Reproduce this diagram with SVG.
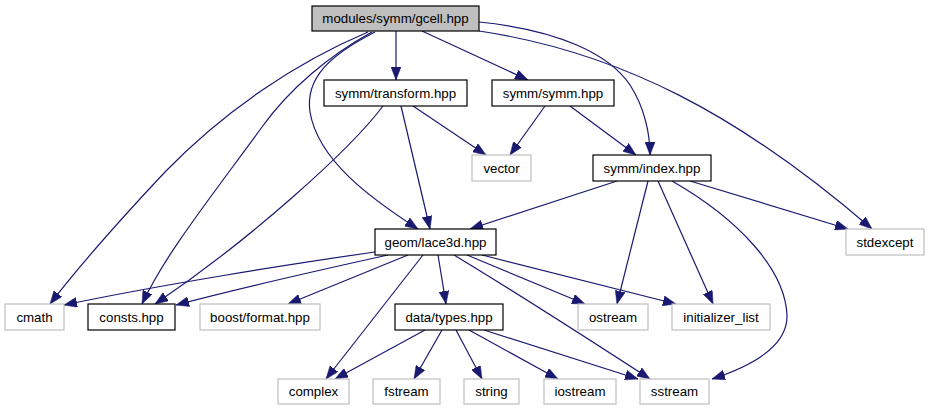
<svg xmlns="http://www.w3.org/2000/svg" width="930" height="411" viewBox="0 0 930 411">
<defs>
<marker id="arr" viewBox="0 0 13 10" refX="13" refY="5" markerWidth="13" markerHeight="10" markerUnits="userSpaceOnUse" orient="auto">
<path d="M0,0 L13,5 L0,10 Z" fill="#191970" stroke="#191970" stroke-width="0.5"/>
</marker>
</defs>
<style>
.e{fill:none;stroke:#191970;stroke-width:1.2;marker-end:url(#arr)}
.n rect{fill:#ffffff;stroke:#000000;stroke-width:1.2}
.s rect{fill:#ffffff;stroke:#bfbfbf;stroke-width:1.2}
.r rect{fill:#bfbfbf;stroke:#000000;stroke-width:1.2}
text{font-family:"Liberation Sans",Arial,Helvetica,sans-serif;font-size:13.3px;fill:#000000;text-anchor:middle}
</style>
<rect width="930" height="411" fill="#ffffff"/>
<g id="edges">
<path class="e" d="M368,32 C297,62 225,110 165,172 C118,222 80,265 50,304"/>
<path class="e" d="M372,32 C330,55 290,88 262,127 C205,205 165,255 142,304"/>
<path class="e" d="M375,32 C330,55 305,78 310,112 C318,160 370,198 418,229"/>
<path class="e" d="M396,31 L396,80"/>
<path class="e" d="M422,31 L528,80"/>
<path class="e" d="M479,22 C560,30 610,55 630,85 C645,108 650,135 650,155"/>
<path class="e" d="M479,31 C620,52 740,115 872,229"/>
<path class="e" d="M383,106 C350,150 250,240 155,304"/>
<path class="e" d="M401,106 L430,229"/>
<path class="e" d="M413,106 L486,155"/>
<path class="e" d="M545,106 L510,155"/>
<path class="e" d="M570,106 L636,155"/>
<path class="e" d="M617,181 L470,229"/>
<path class="e" d="M690,181 L848,229"/>
<path class="e" d="M648,181 L617,304"/>
<path class="e" d="M658,181 L713,304"/>
<path class="e" d="M672,181 C740,220 785,270 787,315 C788,345 755,365 712,379"/>
<path class="e" d="M375,252 C290,264 160,285 64,305"/>
<path class="e" d="M388,255 C320,270 240,288 176,305"/>
<path class="e" d="M408,255 L288,304"/>
<path class="e" d="M423,255 L326,379"/>
<path class="e" d="M438,255 L446,304"/>
<path class="e" d="M467,255 L585,304"/>
<path class="e" d="M482,255 L676,304"/>
<path class="e" d="M454,255 C520,295 590,340 650,379"/>
<path class="e" d="M425,330 L335,379"/>
<path class="e" d="M442,330 L414,379"/>
<path class="e" d="M456,330 L482,379"/>
<path class="e" d="M469,330 L558,379"/>
<path class="e" d="M484,330 L638,379"/>
</g>
<g id="gcell" class="r"><rect x="312" y="6" width="167" height="25"/><text x="395.5" y="23">modules/symm/gcell.hpp</text></g>
<g id="transform" class="n"><rect x="324" y="80" width="143" height="26"/><text x="395.5" y="97.5">symm/transform.hpp</text></g>
<g id="symm" class="n"><rect x="492" y="80" width="122" height="26"/><text x="553" y="97.5">symm/symm.hpp</text></g>
<g id="vector" class="s"><rect x="472" y="155" width="59" height="26"/><text x="501.5" y="172.5">vector</text></g>
<g id="index" class="n"><rect x="593" y="155" width="118" height="26"/><text x="652" y="172.5">symm/index.hpp</text></g>
<g id="stdexcept" class="s"><rect x="846" y="229" width="78" height="26"/><text x="885" y="246.5">stdexcept</text></g>
<g id="lace3d" class="n"><rect x="375" y="229" width="121" height="26"/><text x="435.5" y="246.5">geom/lace3d.hpp</text></g>
<g id="cmath" class="s"><rect x="5" y="304" width="59" height="26"/><text x="34.5" y="321.5">cmath</text></g>
<g id="consts" class="n"><rect x="88" y="304" width="87" height="26"/><text x="131.5" y="321.5">consts.hpp</text></g>
<g id="boost_format" class="s"><rect x="200" y="304" width="120" height="26"/><text x="260" y="321.5">boost/format.hpp</text></g>
<g id="types" class="n"><rect x="395" y="304" width="108" height="26"/><text x="449" y="321.5">data/types.hpp</text></g>
<g id="ostream" class="s"><rect x="578" y="304" width="70" height="26"/><text x="613" y="321.5">ostream</text></g>
<g id="initializer_list" class="s"><rect x="672" y="304" width="98" height="26"/><text x="721" y="321.5">initializer_list</text></g>
<g id="complex" class="s"><rect x="278" y="379" width="71" height="25"/><text x="313.5" y="396">complex</text></g>
<g id="fstream" class="s"><rect x="373" y="379" width="67" height="25"/><text x="406.5" y="396">fstream</text></g>
<g id="string" class="s"><rect x="464" y="379" width="55" height="25"/><text x="491.5" y="396">string</text></g>
<g id="iostream" class="s"><rect x="544" y="379" width="72" height="25"/><text x="580" y="396">iostream</text></g>
<g id="sstream" class="s"><rect x="640" y="379" width="69" height="25"/><text x="674.5" y="396">sstream</text></g>
</svg>
